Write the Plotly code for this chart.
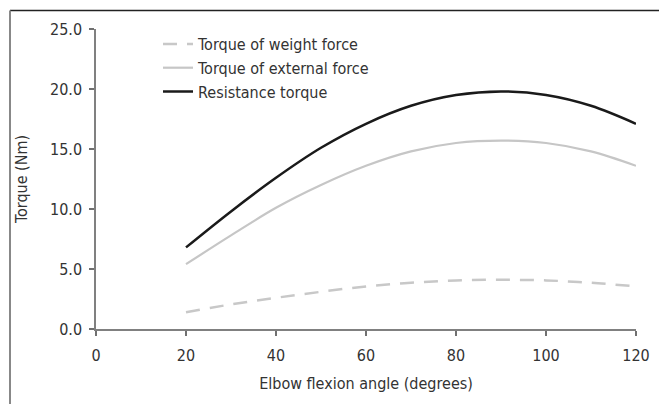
import plotly.graph_objects as go

angle = [20, 30, 40, 50, 60, 70, 80, 90, 100, 110, 120]
weight_torque = [1.4, 2.05, 2.6, 3.1, 3.55, 3.85, 4.05, 4.1, 4.05, 3.85, 3.55]
external_torque = [5.4, 7.8, 10.1, 12.0, 13.6, 14.8, 15.5, 15.7, 15.5, 14.8, 13.6]
resistance_torque = [6.8, 9.8, 12.6, 15.1, 17.1, 18.6, 19.5, 19.8, 19.5, 18.6, 17.1]

x_ticks = [0, 20, 40, 60, 80, 100, 120]
y_ticks = [0, 5, 10, 15, 20, 25]
y_tick_text = ["0.0", "5.0", "10.0", "15.0", "20.0", "25.0"]

FONT = '"DejaVu Sans Condensed", "DejaVu Sans", sans-serif'

fig = go.Figure()
fig.add_trace(go.Scatter(x=angle, y=weight_torque, mode="lines", name="Torque of weight force",
                         line=dict(color="#c8c8c8", width=2.5, dash="14px,10px", shape="spline")))
fig.add_trace(go.Scatter(x=angle, y=external_torque, mode="lines", name="Torque of external force",
                         line=dict(color="#c6c6c6", width=2.2, shape="spline")))
fig.add_trace(go.Scatter(x=angle, y=resistance_torque, mode="lines", name="Resistance torque",
                         line=dict(color="#1a1a1a", width=2.5, shape="spline")))

L, R, T, B = 96, 23, 29, 75
W, H = 659, 404
pw, ph = W - L - R, H - T - B

def px(xp):
    return (xp - L) / pw

def py(yp):
    return (H - B - yp) / ph

fig.update_layout(
    width=W, height=H,
    margin=dict(l=L, r=R, t=T, b=B, autoexpand=False),
    paper_bgcolor="white", plot_bgcolor="white",
    font=dict(family=FONT, size=16, color="#333333"),
    showlegend=True,
    legend=dict(x=px(158), y=py(27), xanchor="left", yanchor="top",
                bgcolor="rgba(0,0,0,0)", font=dict(family=FONT, size=16, color="#333333"),
                tracegroupgap=0, itemwidth=30),
    xaxis=dict(range=[0, 120], tickvals=x_ticks, ticks="outside", ticklen=5, tickcolor="#707070",
               tickwidth=1.5, showline=True, linecolor="#808080", linewidth=1.5, showgrid=False,
               zeroline=False, ticklabelstandoff=6, automargin=False,
               title=dict(text="Elbow flexion angle (degrees)", standoff=14,
                          font=dict(family=FONT, size=16, color="#333333")),
               tickfont=dict(family=FONT, size=16, color="#333333")),
    yaxis=dict(range=[0, 25], tickvals=y_ticks, ticktext=y_tick_text, ticks="outside", ticklen=5,
               tickcolor="#707070", tickwidth=1.5, showline=True, linecolor="#808080", linewidth=1.5,
               showgrid=False, zeroline=False, ticklabelstandoff=4, automargin=False,
               title=dict(text="Torque (Nm)", standoff=18,
                          font=dict(family=FONT, size=16, color="#333333")),
               tickfont=dict(family=FONT, size=16, color="#333333")),
    shapes=[
        dict(type="line", xref="paper", yref="paper", x0=px(10), x1=px(659), y0=py(10.5), y1=py(10.5),
             line=dict(color="#222222", width=1.5)),
        dict(type="line", xref="paper", yref="paper", x0=px(10), x1=px(10), y0=py(10.5), y1=py(404),
             line=dict(color="#888888", width=2)),
    ],
)

fig.write_html("out.html", config={"displayModeBar": False},
               post_script="document.body.style.margin='0';document.body.style.overflow='hidden';")
